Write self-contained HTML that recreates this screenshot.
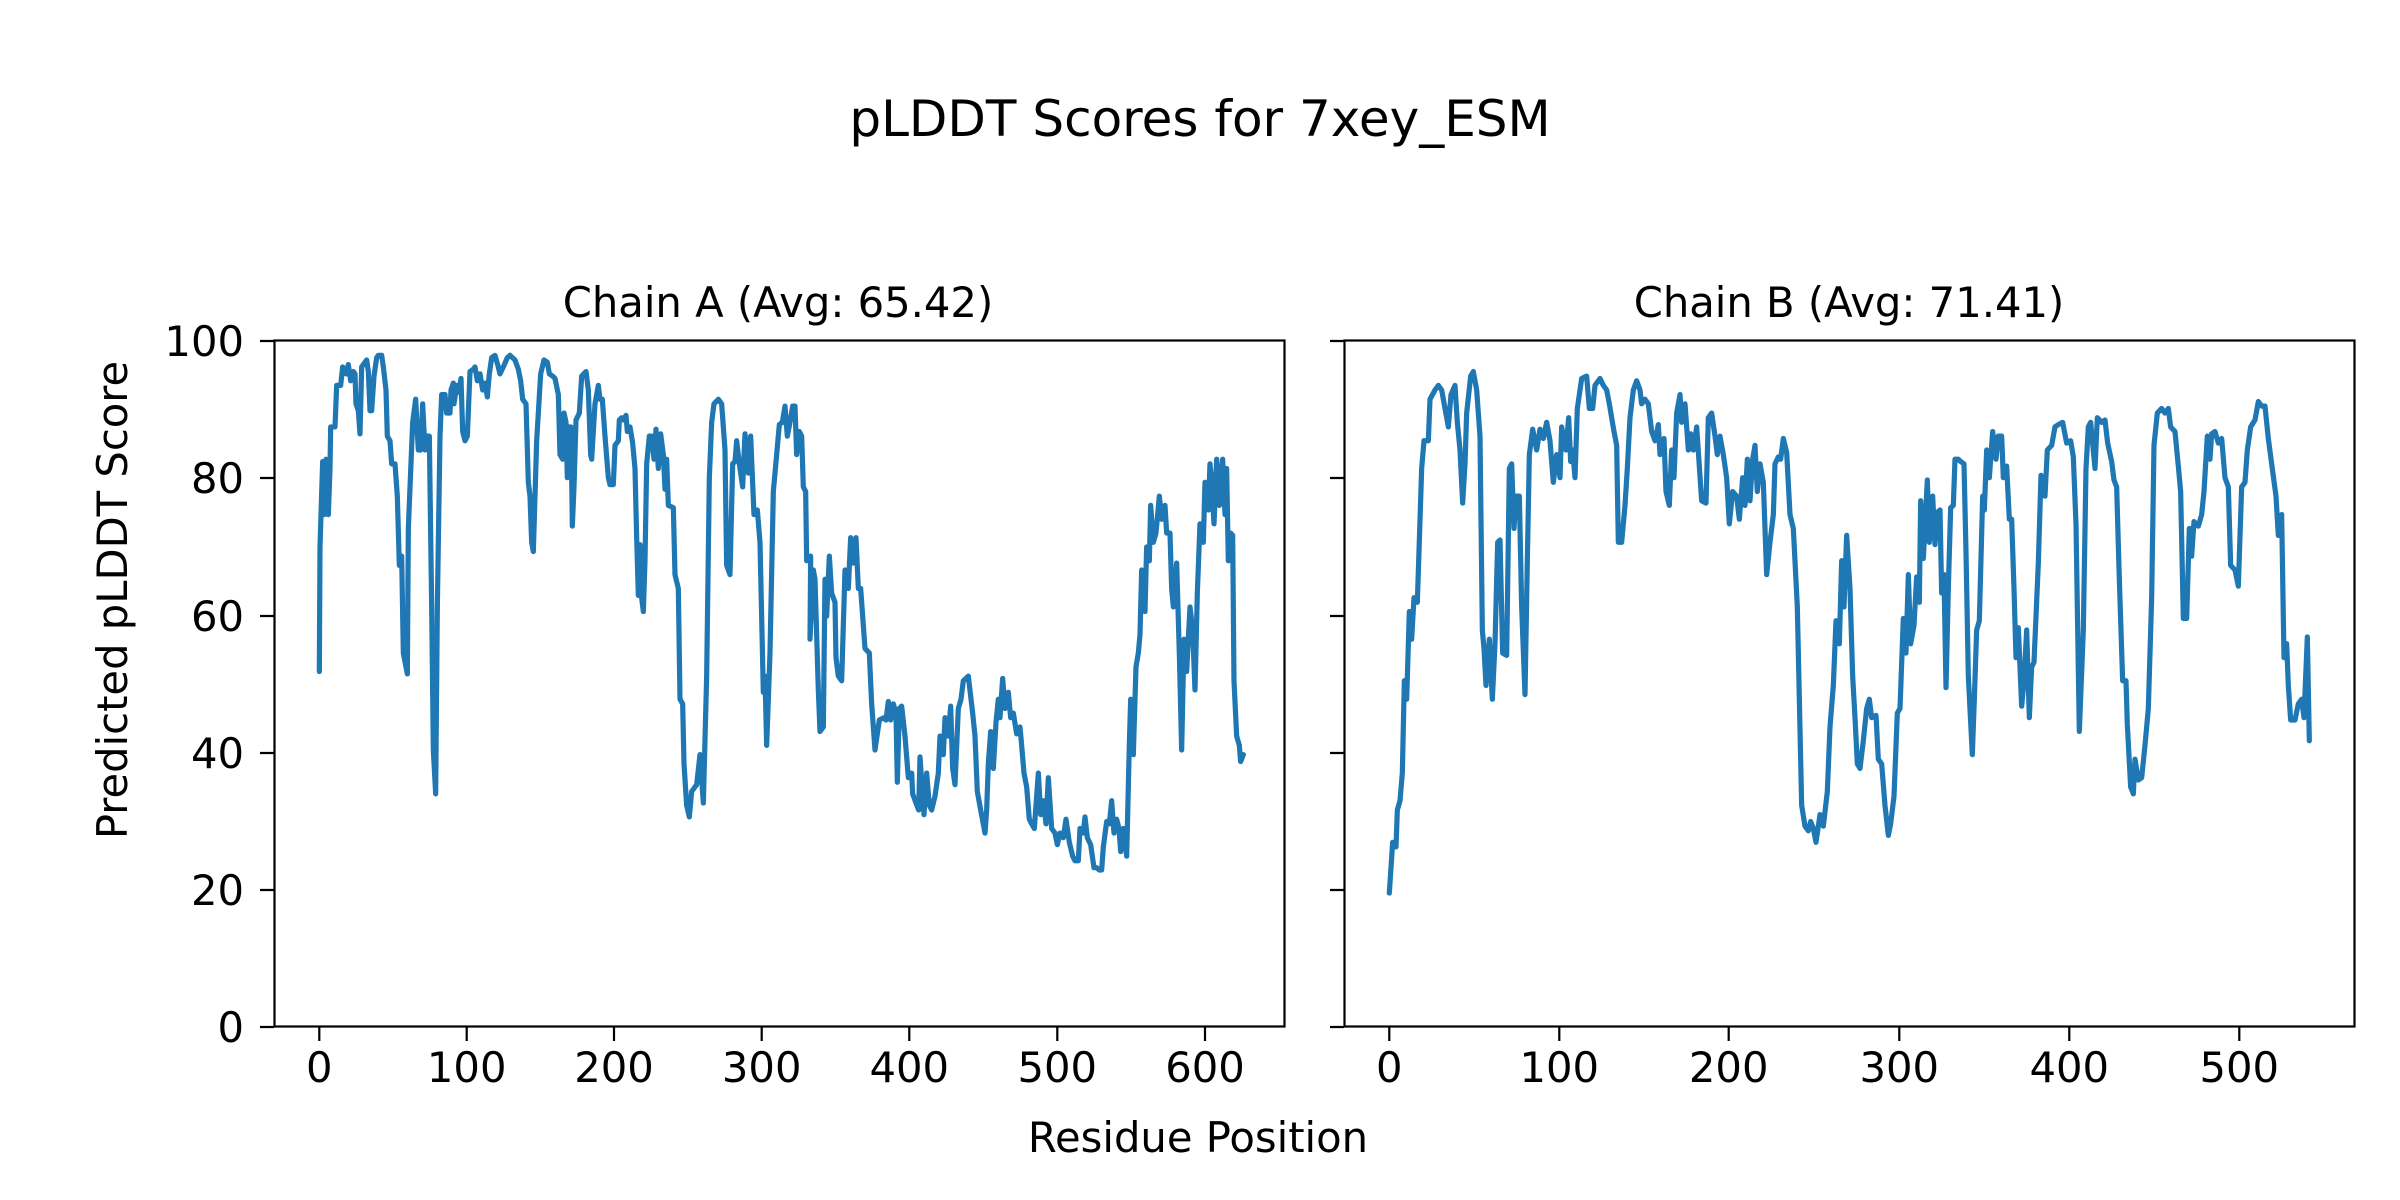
<!DOCTYPE html>
<html><head><meta charset="utf-8"><style>html,body{margin:0;padding:0;background:#fff}svg{display:block}</style></head>
<body>
<svg width="2400" height="1200" viewBox="0 0 2400 1200" xmlns="http://www.w3.org/2000/svg" font-family="DejaVu Sans, Liberation Sans, sans-serif" fill="#000">
<rect width="2400" height="1200" fill="#fff"/>
<text x="1200" y="136" font-size="50" text-anchor="middle">pLDDT Scores for 7xey_ESM</text>
<text x="778" y="317" font-size="41.7" text-anchor="middle">Chain A (Avg: 65.42)</text>
<text x="1849" y="317" font-size="41.7" text-anchor="middle">Chain B (Avg: 71.41)</text>
<text x="1198" y="1152" font-size="41.7" text-anchor="middle">Residue Position</text>
<text transform="translate(127,600) rotate(-90)" font-size="41.7" text-anchor="middle">Predicted pLDDT Score</text>
<g fill="none" stroke="#1f77b4" stroke-width="5.2" stroke-linejoin="round" stroke-linecap="round">
<g transform="translate(270,330) scale(0.33333,0.46154)">
<polyline vector-effect="non-scaling-stroke" points="148,740 150,470 158,285 162,400 168,280 175,400 180,300 182,210 195,210 200,120 212,120 218,80 228,95 235,75 242,110 250,90 255,95 258,160 265,175 270,225 275,80 285,70 290,65 295,90 300,175 305,175 312,100 320,60 325,55 335,55 340,80 348,130 352,230 360,240 365,290 375,290 382,360 388,510 395,490 400,700 412,745 415,430 428,200 437,150 445,260 452,260 458,160 465,260 470,230 478,230 485,600 490,910 497,1005 502,600 510,230 515,140 525,140 530,180 540,180 543,130 550,115 552,160 560,120 567,135 573,105 578,220 585,240 592,230 600,90 610,85 615,80 622,110 630,95 638,130 645,115 652,145 658,95 665,60 675,55 683,75 690,95 700,80 712,60 720,55 735,65 745,85 752,110 758,150 768,160 775,330 780,360 785,460 790,480 800,240 812,95 822,65 832,70 838,95 848,100 855,105 865,140 870,270 878,280 882,180 888,200 892,320 897,210 903,210 907,425 912,340 918,195 928,180 935,100 948,90 955,130 962,270 965,280 975,160 985,120 990,150 997,150 1005,230 1015,320 1020,335 1030,335 1035,250 1045,240 1048,195 1055,190 1060,195 1068,185 1072,220 1080,210 1088,245 1095,300 1100,450 1105,575 1110,465 1115,580 1120,610 1125,500 1130,290 1138,230 1145,230 1152,280 1158,215 1165,300 1172,225 1180,270 1185,345 1190,280 1195,380 1210,385 1215,530 1225,560 1230,800 1238,810 1242,940 1250,1030 1258,1055 1265,1000 1280,985 1290,920 1300,1025 1310,750 1318,320 1325,200 1332,160 1345,150 1355,160 1365,260 1370,510 1380,530 1388,290 1395,285 1400,240 1408,290 1418,340 1425,225 1435,310 1442,230 1452,400 1462,390 1470,460 1480,785 1485,750 1490,900 1500,700 1510,350 1520,270 1528,205 1537,200 1545,165 1552,230 1560,200 1568,165 1575,165 1580,270 1588,220 1595,230 1600,340 1607,350 1610,500 1622,490 1620,670 1630,520 1635,540 1645,780 1650,870 1660,860 1665,540 1670,620 1678,490 1685,570 1695,590 1698,710 1705,750 1715,760 1725,520 1735,560 1742,450 1750,505 1758,450 1765,560 1772,560 1785,690 1798,700 1805,810 1815,910 1828,845 1842,840 1848,845 1855,805 1862,845 1870,810 1878,830 1882,980 1888,820 1895,815 1905,880 1915,970 1925,960 1928,1005 1938,1025 1946,1040 1950,925 1962,1050 1970,960 1978,1030 1985,1040 1995,1010 2005,960 2010,880 2020,920 2025,840 2035,880 2042,815 2048,950 2055,985 2065,820 2073,800 2080,760 2095,750 2108,830 2115,880 2122,1000 2132,1040 2145,1090 2150,1040 2155,940 2162,870 2170,950 2178,850 2185,800 2190,840 2198,755 2205,820 2215,785 2222,840 2230,830 2240,875 2250,860 2255,900 2262,960 2270,990 2278,1060 2285,1070 2293,1080 2305,960 2312,1050 2320,1020 2328,1070 2335,970 2345,1080 2355,1090 2362,1115 2370,1090 2380,1100 2388,1060 2398,1110 2408,1140 2415,1150 2425,1150 2430,1080 2440,1090 2445,1055 2452,1100 2462,1115 2472,1165 2480,1165 2488,1170 2495,1170 2500,1120 2510,1065 2518,1070 2525,1020 2532,1090 2540,1060 2547,1080 2552,1130 2560,1080 2570,1140 2578,900 2582,800 2590,920 2598,730 2605,700 2610,660 2615,520 2625,610 2630,470 2638,500 2642,380 2650,460 2658,440 2668,360 2675,410 2685,380 2690,440 2700,440 2705,560 2710,600 2720,505 2728,700 2735,910 2742,670 2750,740 2760,600 2768,650 2775,780 2782,570 2790,420 2800,460 2805,330 2815,390 2820,290 2825,330 2832,420 2840,280 2848,380 2858,280 2865,400 2870,300 2875,500 2882,440 2888,445 2892,760 2900,880 2908,900 2912,935 2920,920"/>
</g>
<g transform="translate(1340,330) scale(0.33333,0.46154)">
<polyline vector-effect="non-scaling-stroke" points="148,1220 158,1110 168,1120 172,1040 180,1020 187,960 193,760 200,800 208,610 215,670 222,580 232,590 245,300 252,240 265,240 270,150 285,130 295,120 305,130 315,170 325,210 333,140 345,120 352,200 360,260 368,375 375,290 380,180 392,100 400,90 410,130 420,230 427,650 432,690 438,770 448,670 457,800 465,680 473,460 480,455 488,700 500,705 508,300 515,290 522,430 528,360 538,360 545,600 555,790 562,500 568,270 578,215 590,260 600,215 610,235 620,200 630,240 640,330 650,270 660,320 665,210 670,230 678,260 686,190 692,285 698,260 705,320 712,170 725,105 740,100 748,170 758,170 765,120 775,110 780,105 790,120 800,130 808,160 815,190 822,220 830,250 835,460 845,460 855,380 862,300 870,190 880,130 890,110 900,130 905,160 915,150 925,160 935,220 945,240 955,205 960,270 972,235 978,350 988,380 995,260 1002,320 1010,180 1020,140 1025,200 1035,160 1045,260 1052,225 1060,260 1070,210 1085,370 1098,375 1105,190 1115,180 1125,230 1132,270 1140,230 1150,270 1160,320 1168,420 1178,350 1190,360 1198,410 1208,320 1215,380 1222,280 1230,370 1238,280 1245,250 1252,350 1260,290 1270,330 1280,530 1290,460 1300,400 1305,290 1315,275 1322,280 1330,235 1340,265 1350,400 1360,430 1372,600 1385,1030 1395,1075 1405,1085 1412,1065 1420,1080 1428,1110 1440,1050 1450,1075 1462,1000 1470,860 1480,770 1488,630 1498,680 1505,500 1512,600 1520,445 1530,560 1538,750 1545,840 1552,940 1560,950 1570,890 1580,820 1588,800 1595,840 1608,835 1615,930 1625,940 1635,1030 1645,1095 1652,1070 1662,1010 1672,830 1680,820 1690,625 1698,700 1705,530 1712,680 1722,640 1730,535 1738,590 1742,370 1750,495 1762,325 1768,460 1778,360 1785,465 1792,395 1800,390 1805,570 1812,530 1818,775 1825,560 1832,385 1840,380 1845,280 1855,280 1862,285 1872,290 1878,480 1885,750 1897,920 1903,800 1910,650 1918,630 1928,360 1933,390 1940,260 1948,320 1958,220 1968,280 1975,230 1985,230 1990,320 2000,295 2008,410 2015,410 2022,560 2028,710 2035,645 2045,815 2052,760 2060,650 2068,840 2075,730 2082,720 2095,505 2103,315 2115,360 2122,260 2135,250 2145,210 2155,205 2168,200 2180,245 2192,240 2200,275 2208,420 2218,870 2230,650 2238,300 2245,210 2252,200 2265,300 2272,190 2285,200 2295,195 2303,245 2315,285 2322,325 2330,340 2338,540 2348,760 2358,760 2362,855 2372,990 2380,1005 2385,930 2395,975 2405,970 2415,900 2425,820 2435,580 2442,250 2452,180 2465,170 2475,180 2485,170 2492,210 2505,220 2515,295 2522,350 2530,625 2540,625 2548,430 2555,490 2562,415 2575,425 2585,400 2592,350 2602,230 2610,280 2615,225 2625,220 2635,245 2645,235 2655,320 2665,340 2672,510 2685,520 2695,555 2705,340 2715,330 2722,260 2732,210 2745,195 2755,155 2765,165 2775,165 2785,235 2795,290 2808,360 2815,445 2825,400 2832,710 2840,680 2845,770 2852,845 2865,845 2875,810 2885,800 2892,840 2902,665 2908,890"/>
</g>
</g>
<g fill="none" stroke="#000" stroke-width="2.2">
<rect x="274.5" y="340.5" width="1010" height="686"/>
<rect x="1344.5" y="340.5" width="1010" height="686"/>
<path d="M274 1027h-14M274 890h-14M274 753h-14M274 616h-14M274 478h-14M274 341h-14
M1344 1027h-14M1344 890h-14M1344 753h-14M1344 616h-14M1344 478h-14M1344 341h-14
M319.3 1027v14M466.7 1027v14M614 1027v14M761.7 1027v14M909.3 1027v14M1057.3 1027v14M1205 1027v14
M1389.3 1027v14M1559.3 1027v14M1728.7 1027v14M1899.3 1027v14M2069.3 1027v14M2239.3 1027v14"/>
</g>
<g font-size="41.7" text-anchor="end">
<text x="244" y="1042">0</text><text x="244" y="905">20</text><text x="244" y="768">40</text><text x="244" y="631">60</text><text x="244" y="493">80</text><text x="244" y="356">100</text>
</g>
<g font-size="41.7" text-anchor="middle">
<text x="319.3" y="1082">0</text><text x="466.7" y="1082">100</text><text x="614" y="1082">200</text><text x="761.7" y="1082">300</text><text x="909.3" y="1082">400</text><text x="1057.3" y="1082">500</text><text x="1205" y="1082">600</text>
<text x="1389.3" y="1082">0</text><text x="1559.3" y="1082">100</text><text x="1728.7" y="1082">200</text><text x="1899.3" y="1082">300</text><text x="2069.3" y="1082">400</text><text x="2239.3" y="1082">500</text>
</g>
</svg>
</body></html>
